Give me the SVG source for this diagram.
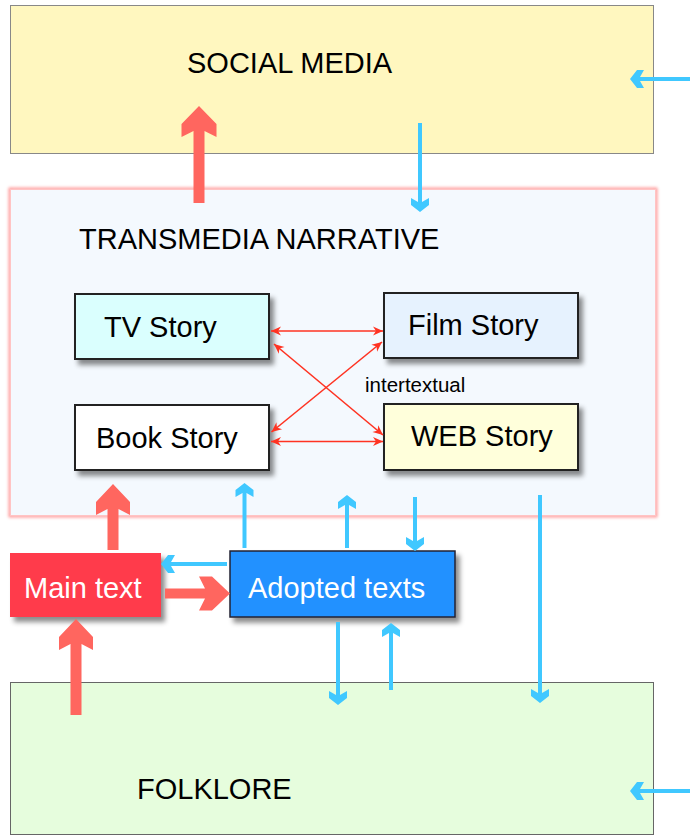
<svg xmlns="http://www.w3.org/2000/svg" width="690" height="836" viewBox="0 0 690 836">
<defs>
<style>
.lbl{font-family:"Liberation Sans",Arial,sans-serif;font-size:29px;fill:#000}
.wlbl{font-family:"Liberation Sans",Arial,sans-serif;font-size:29px;fill:#fff}
.small{font-family:"Liberation Sans",Arial,sans-serif;font-size:20.5px;fill:#000}
.story{stroke:#222;stroke-width:2}
.blue{fill:none;stroke:#40c8ff;stroke-width:4;marker-end:url(#bh)}
.thin{fill:none;stroke:#ff3322;stroke-width:1.6;marker-start:url(#rh);marker-end:url(#rh)}
.red{fill:#ff665f}
</style>
<filter id="sh" x="-10%" y="-10%" width="130%" height="140%">
<feDropShadow dx="4" dy="5" stdDeviation="2.5" flood-color="#000" flood-opacity="0.45"/>
</filter>
<filter id="glow" x="-5%" y="-5%" width="110%" height="110%">
<feGaussianBlur stdDeviation="1.5"/>
</filter>
<marker id="bh" markerUnits="userSpaceOnUse" viewBox="-15 -10 16 20" refX="-6" refY="0" markerWidth="16" markerHeight="20" orient="auto">
<path d="M0,0 L-7,-9 L-14,-9 L-10,-2 L-10,2 L-14,9 L-7,9 Z" fill="#40c8ff"/>
</marker>
<marker id="rh" markerUnits="userSpaceOnUse" viewBox="-11 -5 12 10" refX="0" refY="0" markerWidth="12" markerHeight="10" orient="auto-start-reverse">
<path d="M0,0 L-10,-4.5 L-7,0 L-10,4.5 Z" fill="#ff3322"/>
</marker>
</defs>
<rect width="690" height="836" fill="#fff"/>

<g id="social-media">
<rect x="10.5" y="5.5" width="643" height="148" fill="#fff7bf" stroke="#888" stroke-width="1"/>
<text class="lbl" x="187" y="73">SOCIAL MEDIA</text>
</g>

<g id="folklore">
<rect x="10.5" y="682.5" width="643" height="152" fill="#e6fddd" stroke="#666" stroke-width="1"/>
<text class="lbl" x="137" y="799">FOLKLORE</text>
</g>

<g id="transmedia-narrative">
<rect x="10" y="189" width="646" height="327" fill="none" stroke="#ff9a9a" stroke-width="3" filter="url(#glow)"/>
<rect x="10.5" y="189.5" width="645" height="326" fill="#f4f9fe" stroke="#ffc4c4" stroke-width="1"/>
<text class="lbl" x="79" y="249">TRANSMEDIA NARRATIVE</text>
</g>

<g id="tv-story">
<rect class="story" x="75" y="294" width="194" height="65" fill="#dafffe" filter="url(#sh)"/>
<text class="lbl" x="104" y="337">TV Story</text>
</g>
<g id="film-story">
<rect class="story" x="384" y="293" width="194" height="65" fill="#e6f2fe" filter="url(#sh)"/>
<text class="lbl" x="408" y="335">Film Story</text>
</g>
<g id="book-story">
<rect class="story" x="75" y="405" width="194" height="65" fill="#ffffff" filter="url(#sh)"/>
<text class="lbl" x="96" y="448">Book Story</text>
</g>
<g id="web-story">
<rect class="story" x="384" y="404" width="194" height="66" fill="#ffffdb" filter="url(#sh)"/>
<text class="lbl" x="411" y="446">WEB Story</text>
</g>

<g id="main-text">
<rect x="10" y="553" width="151" height="64" fill="#ff3a4b" filter="url(#sh)"/>
<text class="wlbl" x="24" y="598">Main text</text>
</g>
<g id="adopted-texts">
<rect x="230" y="551" width="225" height="66" fill="#2291ff" stroke="#223" stroke-width="1.5" filter="url(#sh)"/>
<text class="wlbl" x="248" y="598">Adopted texts</text>
</g>

<g id="connectors">
<polygon class="red" points="199,106 216.5,124 216.5,137 204.5,131 204.5,203 193.5,203 193.5,131 181.5,137 181.5,124"/>
<polygon class="red" points="113,484 130,502 130,515 118.5,509 118.5,550 107.5,550 107.5,509 96,515 96,502"/>
<polygon class="red" points="76,619 93,637 93,650 81.5,644 81.5,715 70.5,715 70.5,644 59,650 59,637"/>
<polygon class="red" points="230,593.5 212,576.5 199,576.5 205,588.5 165,588.5 165,598.5 205,598.5 199,610.5 212,610.5"/>

<path class="blue" d="M690,79 L636,79"/>
<path class="blue" d="M690,791 L636,791"/>
<path class="blue" d="M420,123 L420,206"/>
<path class="blue" d="M244.5,548 L244.5,489"/>
<path class="blue" d="M347,548 L347,501"/>
<path class="blue" d="M415,497 L415,545"/>
<path class="blue" d="M540,495 L540,697"/>
<path class="blue" d="M338,622 L338,699"/>
<path class="blue" d="M391,690 L391,629"/>
<path class="blue" d="M227,564 L167,564"/>

<path class="thin" d="M271,331 L383,331"/>
<path class="thin" d="M271,441.5 L383,441.5"/>
<path class="thin" d="M274,344 L383,435"/>
<path class="thin" d="M382,342 L271.5,432"/>
<text class="small" x="365" y="392">intertextual</text>
</g>
</svg>
